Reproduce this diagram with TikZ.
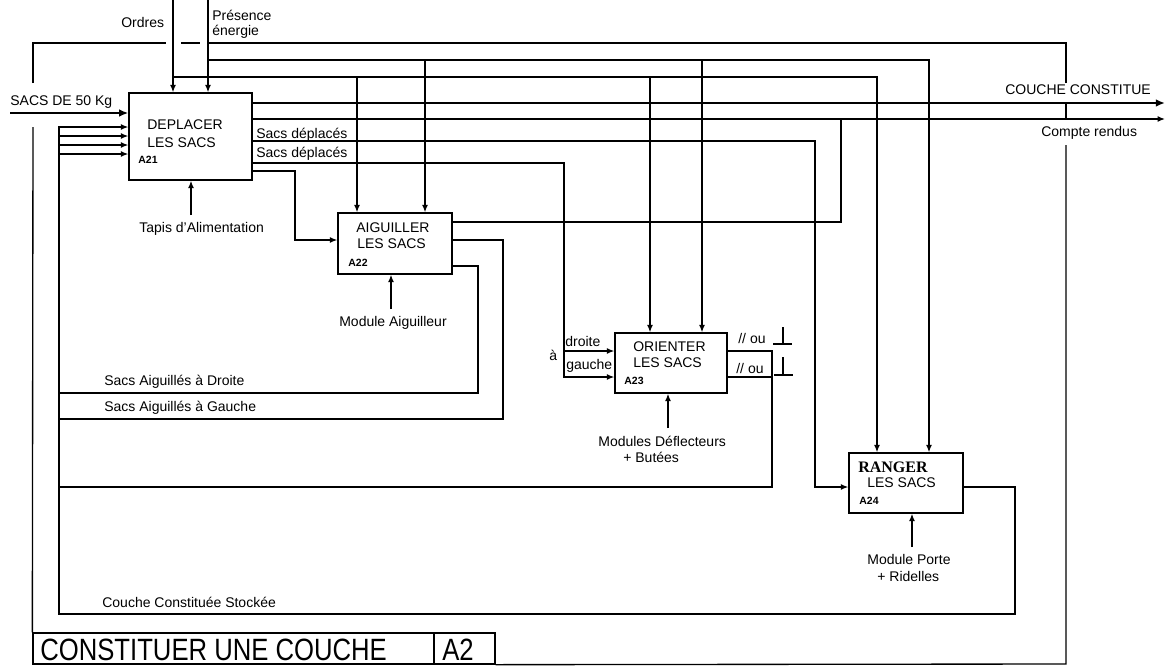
\documentclass[tikz,border=0pt]{standalone}
\usepackage{fontspec}
\setmainfont{Liberation Sans}
\newfontfamily\serifbold{Liberation Serif}
\usetikzlibrary{arrows.meta}
\newcommand\lblsize{\fontsize{8.4}{10}\selectfont}
\newcommand\codesize{\fontsize{6.3}{7}\selectfont\bfseries}
\newcommand\titlesize{\fontsize{15.4}{18}\selectfont}
\begin{document}
\begin{tikzpicture}[x=0.6pt,y=-0.6pt]
\tikzset{
  box/.style={draw, line width=0.8pt, inner sep=0pt, rectangle},
  flow/.style={line width=0.8pt},
  arr/.style={flow, -{Latex[length=4.5pt,width=3.6pt]}},
  heavyarr/.style={line width=1.6pt, -{Latex[length=5.5pt,width=4.6pt]}},
  lbl/.style={inner sep=0pt, anchor=base west, font=\lblsize},
  code/.style={inner sep=0pt, anchor=base west, font=\codesize},
}
\useasboundingbox (0,0) rectangle (1168,667);
\fill[white] (0,0) rectangle (1168,667);

% boxes
\node[box, minimum width=73.8pt, minimum height=52.2pt] (A21) at (190.5,136.5) {};
\node[box, minimum width=68.4pt, minimum height=36.6pt] (A22) at (395,243.5) {};
\node[box, minimum width=67.2pt, minimum height=36pt] (A23) at (671,363) {};
\node[box, minimum width=68.4pt, minimum height=36pt] (A24) at (906,483) {};
\node[box, minimum width=240.6pt, minimum height=18.6pt] (title) at (233.5,648.5) {};
\node[box, minimum width=36.6pt, minimum height=18.6pt] (num) at (464.5,648.5) {};

% box texts
\node[lbl] (t21a) at (147,129) {DEPLACER};
\node[lbl] (t21b) at (147,147) {LES SACS};
\node[code] (t21c) at (138,163) {A21};
\node[lbl] (t22a) at (356,232) {AIGUILLER};
\node[lbl] (t22b) at (357,248) {LES SACS};
\node[code] (t22c) at (348,266) {A22};
\node[lbl] (t23a) at (633,351) {ORIENTER};
\node[lbl] (t23b) at (633,367) {LES SACS};
\node[code] (t23c) at (624,384) {A23};
\node[inner sep=0pt, anchor=base west, font=\fontsize{9.6}{11}\selectfont\serifbold\bfseries] (t24a) at (858,472) {RANGER};
\node[lbl] (t24b) at (867,487) {LES SACS};
\node[code] (t24c) at (859,504) {A24};
\node[inner sep=0pt, anchor=base west, font=\titlesize] (tt) at (40,660) {\scalebox{1}[1.2]{CONSTITUER UNE COUCHE}};
\node[inner sep=0pt, anchor=base west, font=\titlesize] (tn) at (442,660) {\scalebox{1}[1.2]{A2}};

% labels
\node[lbl] (lOrdres) at (121,27) {Ordres};
\node[lbl] (lPres) at (212,20) {Présence};
\node[lbl] (lEner) at (212,35) {énergie};
\node[lbl] (lSacs) at (10,105) {SACS DE 50 Kg};
\node[lbl] (lCouche) at (1005,94) {COUCHE CONSTITUE};
\node[lbl] (lCR) at (1041,136) {Compte rendus};
\node[lbl] (lSd1) at (256,138) {Sacs déplacés};
\node[lbl] (lSd2) at (256,157) {Sacs déplacés};
\node[lbl] (lTapis) at (139,232) {Tapis d'Alimentation};
\node[lbl] (lModA) at (339,326) {Module Aiguilleur};
\node[lbl] (lDroite) at (104,385) {Sacs Aiguillés à Droite};
\node[lbl] (lGauche) at (104,411) {Sacs Aiguillés à Gauche};
\node[lbl] (la) at (549,360) {à};
\node[lbl] (ldr) at (565,346) {droite};
\node[lbl] (lga) at (566,369) {gauche};
\node[lbl] (lou1) at (738,343) {// ou};
\node[lbl] (lou2) at (736,373) {// ou};
\node[lbl] (lDef) at (598,446) {Modules Déflecteurs};
\node[lbl] (lBut) at (623,462) {+ Butées};
\node[lbl] (lPorte) at (867,564) {Module Porte};
\node[lbl] (lRid) at (877,581) {+ Ridelles};
\node[lbl] (lStock) at (102,607) {Couche Constituée Stockée};

% free ends
\coordinate (inOrdres) at (173,0);
\coordinate (inEnergie) at (208,0);
\coordinate (inSacs) at (10,113);
\coordinate (outCouche) at (1165,103);
\coordinate (outCR) at (1165,119);
\coordinate (mec1) at (191,215);
\coordinate (mec2) at (391,309);
\coordinate (mec3) at (668,428);
\coordinate (mec4) at (912,547);

% frame (boundary, broken where arrows cross)
\draw[flow] (33,83) -- (33,43) -- (166,43);
\draw[flow] (181,43) -- (200,43);
\draw[flow] (208,43) -- (1066,43) -- (1066,83);
\draw[flow] (1066,103) -- (1066,119);
\draw[flow] (1066,145) -- (1066,664) -- (num.south east);
\draw[flow] (33,127) -- (title.north west);

% controls
\draw[arr] (inOrdres) -- (A21.north -| inOrdres);
\draw[arr] (inEnergie) -- (A21.north -| inEnergie);
\draw[arr] (inOrdres |- 0,77) -- (877,77) -- (A24.north -| 877,0);
\draw[arr] (357,77) -- (A22.north -| 357,0);
\draw[arr] (650,77) -- (A23.north -| 650,0);
\draw[arr] (inEnergie |- 0,60) -- (929,60) -- (A24.north -| 929,0);
\draw[arr] (425,60) -- (A22.north -| 425,0);
\draw[arr] (702,60) -- (A23.north -| 702,0);

% inputs / outputs
\draw[heavyarr] (inSacs) -- (A21.west |- inSacs);
\draw[heavyarr] (A21.east |- outCouche) -- (outCouche);
\draw[arr] (A21.east |- outCR) -- (outCR);
\draw[flow] (A22.east |- 0,222) -- (841,222) -- (841,119);
\draw[arr] (A21.east |- 0,141) -- (815,141) -- (815,487) -- (A24.west |- 0,487);
\draw[arr] (A21.east |- 0,163) -- (564,163) -- (564,377) -- (A23.west |- 0,377);
\draw[arr] (564,351) -- (A23.west |- 0,351);
\draw[arr] (A21.east |- 0,171) -- (295,171) -- (295,240) -- (A22.west |- 0,240);

% feedback loops
\draw[arr] (A24.east |- 0,487) -- (1015,487) -- (1015,614) -- (59,614) -- (59,127) -- (A21.west |- 0,127);
\draw[arr] (A23.east |- 0,351) -- (772,351) -- (772,487) -- (59,487) -- (59,136) -- (A21.west |- 0,136);
\draw[flow] (A23.east |- 0,377) -- (772,377);
\draw[arr] (A22.east |- 0,240) -- (503,240) -- (503,419) -- (59,419) -- (59,145) -- (A21.west |- 0,145);
\draw[arr] (A22.east |- 0,266) -- (478,266) -- (478,393) -- (59,393) -- (59,154) -- (A21.west |- 0,154);

% perpendicular marks
\draw[flow] (783,327) -- (783,344);
\draw[flow] (773,344) -- (792,344);
\draw[flow] (783,357) -- (783,375);
\draw[flow] (774,375) -- (793,375);

% mechanisms
\draw[arr] (mec1) -- (A21.south -| mec1);
\draw[arr] (mec2) -- (A22.south -| mec2);
\draw[arr] (mec3) -- (A23.south -| mec3);
\draw[arr] (mec4) -- (A24.south -| mec4);
\end{tikzpicture}
\end{document}
